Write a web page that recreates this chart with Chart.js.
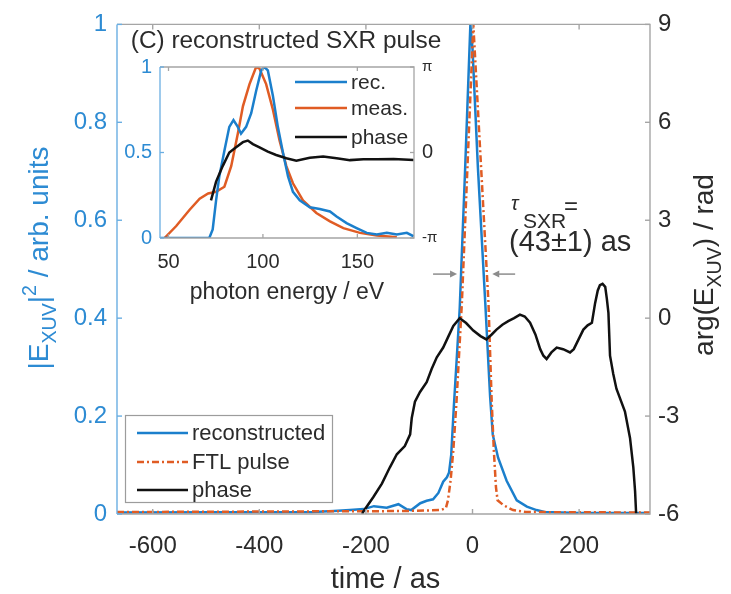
<!DOCTYPE html>
<html lang="en">
<head>
  <meta charset="UTF-8" />
  <title>Reconstructed SXR pulse</title>
  <script src="https://cdn.jsdelivr.net/npm/chart.js"></script>
  <style>
    body { margin: 0; background: #ffffff; }
    #wrap { position: relative; width: 731px; height: 594px; }
    #mainChart { position: absolute; left: 0; top: 0; }
    #insetChart { position: absolute; left: 110px; top: 20px; }
  </style>
</head>
<body>
  <div id="wrap">
    <canvas id="mainChart" width="731" height="594"></canvas>
    <canvas id="insetChart" width="340" height="290"></canvas>
  </div>

  <script>
    // ---- main plot: time domain ----
    const recTime = [-667, -300, -260, -230, -204, -185, -161, -139, -124, -115, -98, -86, -74, -64, -55, -48, -44, -40, -35, -30, -24, -14, -4, 0, 10, 24, 33, 38, 48, 64, 83, 102, 120, 135, 200, 333];
    const recIntensity = [0.003, 0.004, 0.006, 0.008, 0.01, 0.016, 0.013, 0.02, 0.01, 0.008, 0.022, 0.027, 0.03, 0.043, 0.066, 0.075, 0.085, 0.12, 0.22, 0.31, 0.42, 0.70, 1.0, 0.95, 0.71, 0.43, 0.24, 0.162, 0.115, 0.068, 0.028, 0.015, 0.008, 0.004, 0.002, 0.002];

    const ftlTime = [-667, -130, -60, -50, -46, -41, -36, -30, -20, 1.5, 30, 36, 40, 44, 47, 58, 76, 100, 333];
    const ftlIntensity = [0.004, 0.006, 0.008, 0.012, 0.028, 0.07, 0.13, 0.23, 0.43, 1.0, 0.43, 0.23, 0.13, 0.055, 0.028, 0.018, 0.008, 0.004, 0.003];

    const phaseTime = [-207, -205, -186, -170, -155, -142, -127, -117, -114, -108, -98.5, -86, -76.5, -67, -55, -45, -36, -24, -12, 1.5, 15, 26, 36, 45, 56, 67, 78, 89, 98, 108, 118, 127, 133, 139, 148, 158, 170, 183, 190, 196, 208, 216, 224, 230, 235, 239, 244, 249, 252, 255, 258, 264, 270, 286, 295.5, 301.7, 305, 307];
    const phaseValue = [-6, -5.93, -5.48, -5.07, -4.57, -4.17, -3.92, -3.56, -3.06, -2.56, -2.26, -1.96, -1.55, -1.2, -0.9, -0.55, -0.24, 0.0, -0.15, -0.38, -0.55, -0.65, -0.5, -0.35, -0.2, -0.09, 0.0, 0.11, 0.05, -0.14, -0.5, -0.95, -1.15, -1.25, -1.05, -0.9, -0.95, -1.05, -0.95, -0.75, -0.35, -0.22, -0.14, 0.46, 0.85, 1.01, 1.05, 0.96, 0.6, 0.16, -1.15, -1.7, -2.16, -2.86, -3.67, -4.57, -5.3, -6];

    const xTicks = [-600, -400, -200, 0, 200];
    const yLeftTicks = [0, 0.2, 0.4, 0.6, 0.8, 1];
    const yRightTicks = [-6, -3, 0, 3, 6, 9];

    // ---- inset: spectral domain ----
    const insetRecEnergy = [45.6, 71.6, 73.4, 75.2, 76.9, 79.6, 82.2, 84.4, 86.7, 88.4, 91.1, 93.8, 96.4, 99.1, 100.8, 102.6, 105.3, 107.9, 110.6, 113.3, 115.9, 119.5, 124.8, 130.1, 135.5, 139.0, 144.3, 149.6, 155.0, 160.3, 165.6, 170.9, 176.2, 179.8];
    const insetRec = [0, 0, 0.05, 0.22, 0.36, 0.51, 0.65, 0.69, 0.65, 0.61, 0.65, 0.73, 0.86, 0.98, 1.0, 0.98, 0.83, 0.65, 0.5, 0.36, 0.27, 0.22, 0.18, 0.17, 0.155, 0.126, 0.087, 0.058, 0.03, 0.02, 0.03, 0.02, 0.03, 0.01];

    const insetMeasEnergy = [47.9, 54.1, 61.2, 66.5, 71.0, 75.2, 79.6, 83.2, 86.7, 89.4, 92.9, 96.4, 98.2, 101.7, 105.3, 108.8, 112.4, 115.9, 121.2, 128.3, 135.5, 142.6, 151.4, 160.3, 170.9];
    const insetMeas = [0, 0.07, 0.165, 0.23, 0.26, 0.27, 0.30, 0.42, 0.61, 0.77, 0.9, 1.0, 0.99, 0.9, 0.75, 0.57, 0.42, 0.32, 0.22, 0.146, 0.097, 0.058, 0.03, 0.014, 0.004];

    const insetPhaseEnergy = [72.5, 75.2, 78.7, 82.2, 85.8, 89.4, 92.0, 94.7, 98.2, 102.6, 107.0, 112.4, 117.7, 124.8, 131.9, 139.0, 146.1, 153.2, 160.3, 169.2, 179.8];
    const insetPhase = [-1.76, -1.07, -0.5, 0.0, 0.19, 0.38, 0.44, 0.31, 0.19, 0.03, -0.09, -0.21, -0.30, -0.19, -0.15, -0.21, -0.28, -0.25, -0.25, -0.24, -0.28];

    const insetXTicks = [50, 100, 150];
    const insetYTicks = [0, 0.5, 1];
    const insetPhaseTicks = [-Math.PI, 0, Math.PI];

    const BLUE = "#1b7fcc";
    const BLUE_TEXT = "#2d8bd3";
    const AXIS_BLUE = "#6aaee2";
    const ORANGE = "#e05c24";
    const BLACK = "#111111";
    const TEXT = "#2b2b2b";
    const FRAME = "#a5a5a5";
    const FONT = '"Liberation Sans", Arial, sans-serif';

    function pts(xs, ys) {
      return xs.map((x, i) => ({ x: x, y: ys[i] }));
    }

    // text with sub / superscripts: parts = [[text, mode], ...]
    function drawRich(ctx, parts, x, y, size, color, angle) {
      ctx.save();
      ctx.translate(x, y);
      ctx.rotate(angle);
      ctx.fillStyle = color;
      ctx.textBaseline = "alphabetic";
      let w = 0;
      parts.forEach(p => {
        ctx.font = (p[1] ? size * 0.7 : size) + "px " + FONT;
        w += ctx.measureText(p[0]).width;
      });
      let cx = -w / 2;
      parts.forEach(p => {
        ctx.font = (p[1] ? size * 0.7 : size) + "px " + FONT;
        const dy = p[1] === "sub" ? size * 0.28 : p[1] === "sup" ? -size * 0.42 : 0;
        ctx.fillText(p[0], cx, dy);
        cx += ctx.measureText(p[0]).width;
      });
      ctx.restore();
    }

    function line(ctx, x1, y1, x2, y2) {
      ctx.beginPath();
      ctx.moveTo(x1, y1);
      ctx.lineTo(x2, y2);
      ctx.stroke();
    }

    function drawLegendRows(ctx, datasets, x0, x1, ys, size) {
      datasets.forEach((ds, i) => {
        ctx.strokeStyle = ds.borderColor;
        ctx.lineWidth = ds.borderWidth;
        ctx.setLineDash(ds.borderDash || []);
        line(ctx, x0, ys[i], x1, ys[i]);
        ctx.setLineDash([]);
        ctx.fillStyle = TEXT;
        ctx.font = size + "px " + FONT;
        ctx.textBaseline = "middle";
        ctx.textAlign = "left";
        ctx.fillText(ds.label, x1 + 4, ys[i] + 1);
      });
    }

    const mainDecor = {
      id: "mainDecor",
      afterDraw(chart) {
        const { ctx, chartArea: { left, right, top, bottom }, scales: { x, y, y2 } } = chart;
        ctx.save();
        // frame
        ctx.lineWidth = 1.4;
        ctx.strokeStyle = FRAME;
        ctx.beginPath();
        ctx.moveTo(left, top);
        ctx.lineTo(right, top);
        ctx.lineTo(right, bottom);
        ctx.lineTo(left, bottom);
        ctx.stroke();
        ctx.strokeStyle = AXIS_BLUE;
        line(ctx, left, top, left, bottom);
        // inward ticks
        ctx.strokeStyle = FRAME;
        xTicks.forEach(v => {
          const px = x.getPixelForValue(v);
          line(ctx, px, bottom, px, bottom - 5);
          line(ctx, px, top, px, top + 5);
        });
        yRightTicks.forEach(v => {
          const py = y2.getPixelForValue(v);
          line(ctx, right, py, right - 5, py);
        });
        ctx.strokeStyle = AXIS_BLUE;
        yLeftTicks.forEach(v => {
          const py = y.getPixelForValue(v);
          line(ctx, left, py, left + 5, py);
        });

        // axis titles
        drawRich(ctx, [["|E", ""], ["XUV", "sub"], ["|", ""], ["2", "sup"], [" / arb. units", ""]],
          48, 258, 28, BLUE_TEXT, -Math.PI / 2);
        drawRich(ctx, [["arg(E", ""], ["XUV", "sub"], [") / rad", ""]],
          713, 265, 28, TEXT, -Math.PI / 2);
        drawRich(ctx, [["time / as", ""]], (left + right) / 2 + 2, 588, 29, TEXT, 0);

        // FWHM arrows
        ctx.strokeStyle = "#8c8c8c";
        ctx.fillStyle = "#8c8c8c";
        ctx.lineWidth = 1.5;
        const ay = y.getPixelForValue(0.49);
        [[-74, -29], [80, 37]].forEach(a => {
          const p0 = x.getPixelForValue(a[0]);
          const p1 = x.getPixelForValue(a[1]);
          const d = p1 > p0 ? 1 : -1;
          line(ctx, p0, ay, p1 - d * 5, ay);
          ctx.beginPath();
          ctx.moveTo(p1, ay);
          ctx.lineTo(p1 - d * 7, ay - 3.5);
          ctx.lineTo(p1 - d * 7, ay + 3.5);
          ctx.closePath();
          ctx.fill();
        });

        // tau annotation
        ctx.fillStyle = TEXT;
        ctx.textBaseline = "alphabetic";
        ctx.textAlign = "left";
        ctx.font = "italic 20px " + FONT;
        ctx.fillText("\u03c4", 511, 210);
        ctx.font = "21px " + FONT;
        ctx.fillText("SXR", 523, 228);
        ctx.font = "24px " + FONT;
        ctx.fillText("=", 564, 214);
        ctx.font = "29px " + FONT;
        ctx.fillText("(43\u00b11) as", 509, 251);

        // legend
        ctx.fillStyle = "#ffffff";
        ctx.fillRect(125, 415, 207, 87);
        ctx.strokeStyle = "#9c9c9c";
        ctx.lineWidth = 1.2;
        ctx.strokeRect(125.5, 415.5, 207, 87);
        drawLegendRows(ctx, chart.data.datasets, 137, 188, [433, 462, 490], 22);
        ctx.restore();
      }
    };

    new Chart(document.getElementById("mainChart"), {
      type: "line",
      data: {
        datasets: [
          {
            label: "reconstructed",
            data: pts(recTime, recIntensity),
            borderColor: BLUE,
            borderWidth: 2.5,
            pointRadius: 0,
            yAxisID: "y",
            order: 2
          },
          {
            label: "FTL pulse",
            data: pts(ftlTime, ftlIntensity),
            borderColor: ORANGE,
            borderWidth: 2.5,
            borderDash: [7, 3, 2, 3],
            pointRadius: 0,
            yAxisID: "y",
            order: 1
          },
          {
            label: "phase",
            data: pts(phaseTime, phaseValue),
            borderColor: BLACK,
            borderWidth: 2.5,
            pointRadius: 0,
            yAxisID: "y2",
            order: 0
          }
        ]
      },
      options: {
        responsive: false,
        animation: false,
        layout: { padding: { top: 17, left: 0, right: 0, bottom: 0 } },
        plugins: { legend: { display: false }, tooltip: { enabled: false } },
        scales: {
          x: {
            type: "linear",
            min: -667,
            max: 333,
            afterBuildTicks: s => { s.ticks = xTicks.map(v => ({ value: v })); },
            afterFit: s => { s.height = 80; },
            grid: { display: false, drawTicks: false },
            border: { display: false },
            ticks: { color: TEXT, padding: 18, maxRotation: 0, font: { family: FONT, size: 24 }, callback: v => String(v) }
          },
          y: {
            position: "left",
            min: 0,
            max: 1,
            afterBuildTicks: s => { s.ticks = yLeftTicks.map(v => ({ value: v })); },
            afterFit: s => { s.width = 117; },
            grid: { display: false, drawTicks: false },
            border: { display: false },
            ticks: { color: BLUE_TEXT, padding: 10, font: { family: FONT, size: 24 }, callback: v => String(v) }
          },
          y2: {
            position: "right",
            min: -6,
            max: 9,
            afterBuildTicks: s => { s.ticks = yRightTicks.map(v => ({ value: v })); },
            afterFit: s => { s.width = 81; },
            grid: { display: false, drawTicks: false },
            border: { display: false },
            ticks: { color: TEXT, padding: 8, font: { family: FONT, size: 24 }, callback: v => String(v) }
          }
        }
      },
      plugins: [mainDecor]
    });

    const insetDecor = {
      id: "insetDecor",
      beforeDatasetsDraw(chart) {
        const { ctx, chartArea: { left, right, top, bottom } } = chart;
        ctx.save();
        ctx.fillStyle = "#ffffff";
        ctx.fillRect(left, top, right - left, bottom - top);
        ctx.restore();
      },
      afterDraw(chart) {
        const { ctx, chartArea: { left, right, top, bottom }, scales: { x, y, y2 } } = chart;
        ctx.save();
        ctx.lineWidth = 1.3;
        ctx.strokeStyle = FRAME;
        ctx.beginPath();
        ctx.moveTo(left, top);
        ctx.lineTo(right, top);
        ctx.lineTo(right, bottom);
        ctx.lineTo(left, bottom);
        ctx.stroke();
        ctx.strokeStyle = AXIS_BLUE;
        line(ctx, left, top, left, bottom);
        ctx.strokeStyle = FRAME;
        insetXTicks.forEach(v => {
          const px = x.getPixelForValue(v);
          line(ctx, px, bottom, px, bottom - 4);
          line(ctx, px, top, px, top + 4);
        });
        insetPhaseTicks.forEach(v => {
          const py = y2.getPixelForValue(v);
          line(ctx, right, py, right - 4, py);
        });
        ctx.strokeStyle = AXIS_BLUE;
        insetYTicks.forEach(v => {
          const py = y.getPixelForValue(v);
          line(ctx, left, py, left + 4, py);
        });

        drawRich(ctx, [["(C) reconstructed SXR pulse", ""]], 176, 28, 24.4, TEXT, 0);
        drawRich(ctx, [["photon energy / eV", ""]], (left + right) / 2, 279, 23, TEXT, 0);

        drawLegendRows(ctx, chart.data.datasets, 185, 237, [62, 88, 117], 21);
        ctx.restore();
      }
    };

    new Chart(document.getElementById("insetChart"), {
      type: "line",
      data: {
        datasets: [
          {
            label: "rec.",
            data: pts(insetRecEnergy, insetRec),
            borderColor: BLUE,
            borderWidth: 2.5,
            pointRadius: 0,
            yAxisID: "y",
            order: 1
          },
          {
            label: "meas.",
            data: pts(insetMeasEnergy, insetMeas),
            borderColor: ORANGE,
            borderWidth: 2.5,
            pointRadius: 0,
            yAxisID: "y",
            order: 2
          },
          {
            label: "phase",
            data: pts(insetPhaseEnergy, insetPhase),
            borderColor: BLACK,
            borderWidth: 2.5,
            pointRadius: 0,
            yAxisID: "y2",
            order: 0
          }
        ]
      },
      options: {
        responsive: false,
        animation: false,
        layout: { padding: { top: 47, left: 0, right: 0, bottom: 0 } },
        plugins: { legend: { display: false }, tooltip: { enabled: false } },
        scales: {
          x: {
            type: "linear",
            min: 45.5,
            max: 180,
            afterBuildTicks: s => { s.ticks = insetXTicks.map(v => ({ value: v })); },
            afterFit: s => { s.height = 72; },
            grid: { display: false, drawTicks: false },
            border: { display: false },
            ticks: { color: TEXT, padding: 12, maxRotation: 0, font: { family: FONT, size: 20 }, callback: v => String(v) }
          },
          y: {
            position: "left",
            min: 0,
            max: 1,
            afterBuildTicks: s => { s.ticks = insetYTicks.map(v => ({ value: v })); },
            afterFit: s => { s.width = 50; },
            grid: { display: false, drawTicks: false },
            border: { display: false },
            ticks: { color: BLUE_TEXT, padding: 8, font: { family: FONT, size: 20 }, callback: v => String(v) }
          },
          y2: {
            position: "right",
            min: -Math.PI,
            max: Math.PI,
            afterBuildTicks: s => { s.ticks = insetPhaseTicks.map(v => ({ value: v })); },
            afterFit: s => { s.width = 36; },
            grid: { display: false, drawTicks: false },
            border: { display: false },
            ticks: {
              color: TEXT,
              padding: 8,
              font: c => ({ family: FONT, size: c.tick && c.tick.value === 0 ? 20 : 15 }),
              callback: v => (v === 0 ? "0" : v > 0 ? "\u03c0" : "-\u03c0")
            }
          }
        }
      },
      plugins: [insetDecor]
    });
  </script>
</body>
</html>
